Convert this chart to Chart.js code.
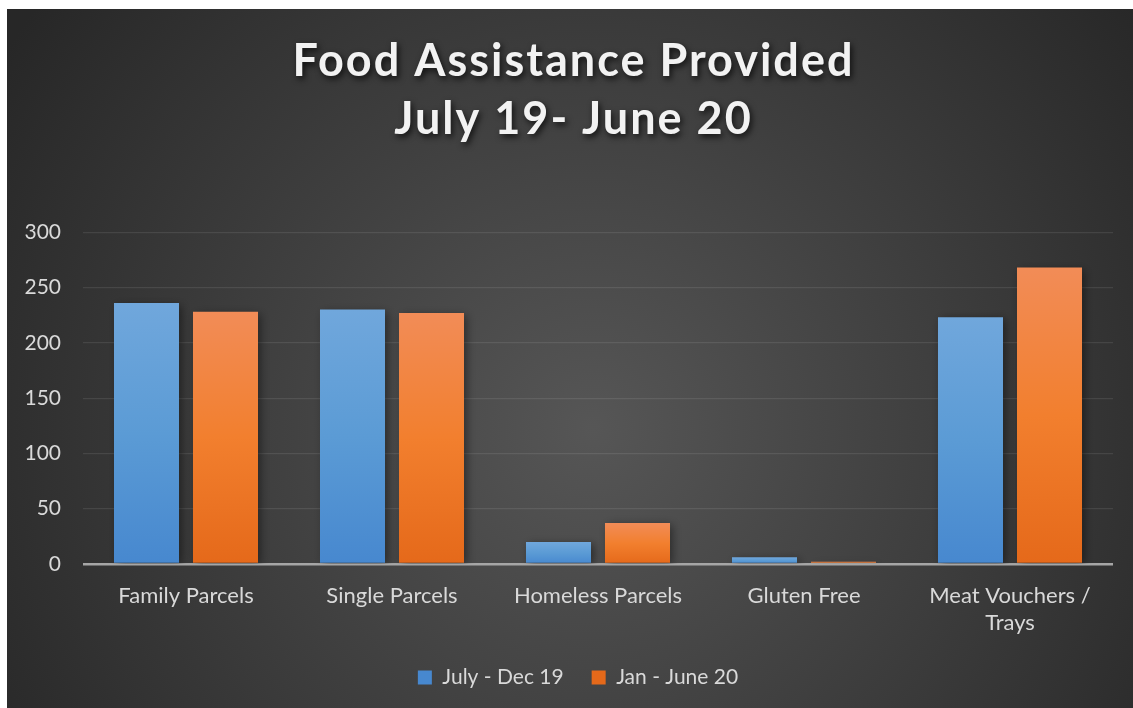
<!DOCTYPE html>
<html>
<head>
<meta charset="utf-8">
<script src="https://cdn.jsdelivr.net/npm/chart.js@4/dist/chart.umd.min.js"></script>
<style>
  html, body { margin: 0; padding: 0; background: #ffffff; }
  #wrap { position: absolute; left: 7px; top: 9px; width: 1126px; height: 699px; }
</style>
</head>
<body>
<div id="wrap"><canvas id="chart" width="1126" height="699"></canvas></div>
<script>
var categories = ["Family Parcels", "Single Parcels", "Homeless Parcels", "Gluten Free", ["Meat Vouchers /", "Trays"]];
var julyDec19 = [236, 230, 20, 6, 223];
var janJune20 = [228, 227, 37, 2, 268];
var yTicks = [0, 50, 100, 150, 200, 250, 300];

var labelColor = '#d9d9d9';
var fontFamily = 'Lato, "Open Sans", sans-serif';

// each bar gets its own light-to-dark vertical gradient
function barFill(top, bottom, solid) {
    return function(c) {
        var chart = c.chart;
        if (c.type !== 'data' || !chart.chartArea) return solid;
        var y = chart.scales.y;
        var y0 = y.getPixelForValue(c.raw);
        var y1 = y.getPixelForValue(0);
        if (y1 - y0 < 1) return solid;
        var g = chart.ctx.createLinearGradient(0, y0, 0, y1);
        g.addColorStop(0, top);
        g.addColorStop(0.5, solid);
        g.addColorStop(1, bottom);
        return g;
    };
}

var background = {
    id: 'background',
    beforeDraw: function(chart) {
        var ctx = chart.ctx, w = chart.width, h = chart.height;
        var g = ctx.createRadialGradient(w * 0.52, h * 0.6, 0, w * 0.52, h * 0.6, w * 0.62);
        g.addColorStop(0, '#565656');
        g.addColorStop(1, '#272727');
        ctx.save();
        ctx.fillStyle = g;
        ctx.fillRect(0, 0, w, h);
        ctx.restore();
    }
};

var barShadow = {
    id: 'barShadow',
    beforeDatasetsDraw: function(chart) {
        var ctx = chart.ctx;
        ctx.save();
        ctx.shadowColor = 'rgba(0,0,0,0.45)';
        ctx.shadowBlur = 9;
        ctx.shadowOffsetX = 3;
        ctx.shadowOffsetY = 2;
    },
    afterDatasetsDraw: function(chart) {
        chart.ctx.restore();
    }
};

var chart = new Chart(document.getElementById('chart'), {
    type: 'bar',
    data: {
        labels: categories,
        datasets: [{
            label: 'July - Dec 19',
            data: julyDec19,
            backgroundColor: barFill('#70a7dc', '#4788cf', '#5b9bd5')
        }, {
            label: 'Jan - June 20',
            data: janJune20,
            backgroundColor: barFill('#f28c57', '#e5691a', '#f27f2e')
        }]
    },
    options: {
        responsive: false,
        animation: false,
        categoryPercentage: 0.767,
        barPercentage: 0.823,
        layout: { padding: { left: 0, right: 20, top: 0, bottom: 10 } },
        plugins: {
            title: {
                display: true,
                text: ['Food Assistance Provided', 'July 19- June 20'],
                color: '#f2f2f2',
                font: { family: fontFamily, size: 45, weight: 'bold', lineHeight: 1.28 },
                padding: { top: 24, bottom: 84 }
            },
            legend: {
                position: 'bottom',
                labels: {
                    color: labelColor,
                    boxWidth: 14,
                    boxHeight: 14,
                    padding: 28,
                    font: { family: fontFamily, size: 21 }
                }
            },
            tooltip: { enabled: false }
        },
        scales: {
            x: {
                grid: { display: false },
                border: { display: false },
                afterFit: function(s) { s.height -= 8; },
                ticks: {
                    color: labelColor,
                    padding: 10,
                    maxRotation: 0,
                    font: { family: fontFamily, size: 22, lineHeight: 1.25 }
                }
            },
            y: {
                min: 0,
                max: 300,
                afterFit: function(s) { s.width = 76; },
                afterBuildTicks: function(s) {
                    s.ticks = yTicks.map(function(v) { return { value: v }; });
                },
                border: { display: false },
                grid: {
                    drawTicks: false,
                    color: function(c) { return c.tick && c.tick.value === 0 ? '#a6a6a6' : 'rgba(255,255,255,0.09)'; },
                    lineWidth: function(c) { return c.tick && c.tick.value === 0 ? 2.5 : 1.2; }
                },
                ticks: {
                    color: labelColor,
                    padding: 22,
                    font: { family: fontFamily, size: 21 }
                }
            }
        }
    },
    plugins: [background, barShadow]
});

// title and legend sit centred on the whole frame, a little right of the plot centre
function nudge(box, dx, setup) {
    var draw = box.draw;
    box.draw = function() {
        var ctx = this.ctx;
        ctx.save();
        ctx.translate(dx, 0);
        if (setup) setup(ctx);
        draw.apply(this, arguments);
        ctx.restore();
    };
}

// spaced-out title letters with a soft drop shadow
nudge(chart.titleBlock, 13.5, function(ctx) {
    ctx.letterSpacing = '2px';
    ctx.shadowColor = 'rgba(0,0,0,0.75)';
    ctx.shadowBlur = 6;
    ctx.shadowOffsetX = 2;
    ctx.shadowOffsetY = 3;
});
nudge(chart.legend, 18);
chart.draw();
</script>
</body>
</html>
